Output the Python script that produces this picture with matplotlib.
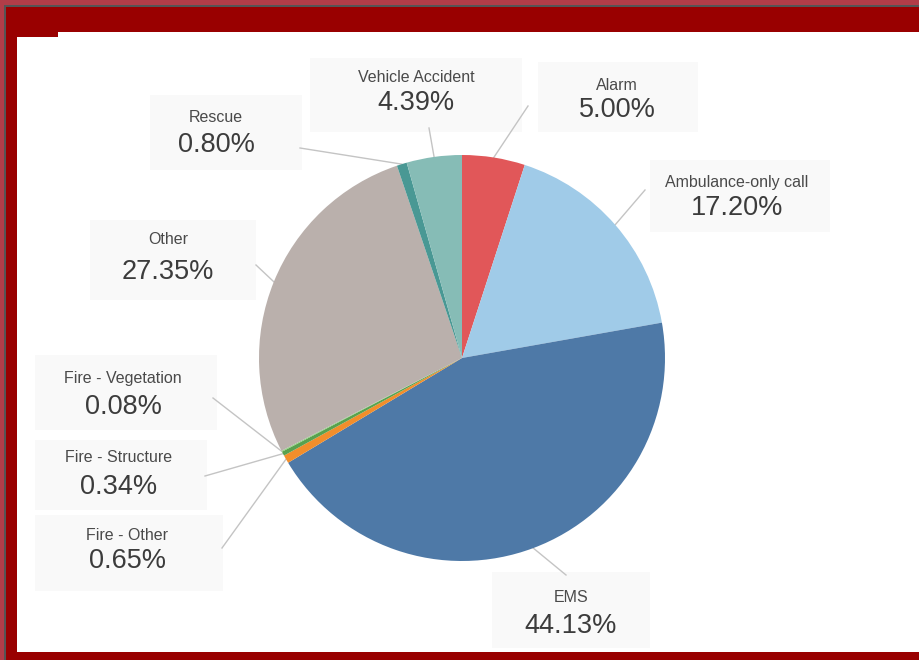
import numpy as np
import matplotlib
matplotlib.use('Agg')
from matplotlib import pyplot as plt
from matplotlib.patches import Rectangle

plt.rcParams['font.family'] = ['Liberation Sans', 'DejaVu Sans']

# data
categories = ['Alarm', 'Ambulance-only call', 'EMS', 'Fire - Other', 'Fire - Structure',
              'Fire - Vegetation', 'Other', 'Rescue', 'Vehicle Accident']
shares = [5.00, 17.20, 44.13, 0.65, 0.34, 0.08, 27.35, 0.80, 4.39]
colors = ['#e15759', '#a0cbe8', '#4e79a7', '#f28e2b', '#59a14f',
          '#8cd17d', '#bab0ac', '#499894', '#86bcb6']

# label layout in pixels: (text x, name y, value y, line start x, line start y, box)
layout = {
    'Alarm': (617, 86, 110, 528, 106, (538, 62, 160, 70)),
    'Ambulance-only call': (737, 182, 208, 645, 190, (650, 160, 180, 72)),
    'EMS': (571, 597, 626, 566, 575, (492, 572, 158, 76)),
    'Fire - Other': (127, 535, 561, 222, 548, (35, 515, 188, 76)),
    'Fire - Structure': (119, 458, 487, 205, 476, (35, 440, 172, 70)),
    'Fire - Vegetation': (123, 378, 407, 213, 398, (35, 355, 182, 75)),
    'Other': (168, 240, 272, 256, 265, (90, 220, 166, 80)),
    'Rescue': (216, 117, 145, 300, 148, (150, 95, 152, 75)),
    'Vehicle Accident': (416, 78, 103, 429, 128, (310, 58, 212, 74)),
}

W, H = 919, 660
cx, cy, r = 462, 358, 203

fig = plt.figure(figsize=(W / 100, H / 100), dpi=100)
fig.patch.set_facecolor('#b23d48')
ax = fig.add_axes([0, 0, 1, 1])

# frame
ax.add_patch(Rectangle((4, 5), W - 4, H - 5, facecolor='#555555', edgecolor='none', zorder=0))
ax.add_patch(Rectangle((6, 7), W - 6, H - 7, facecolor='#990000', edgecolor='none', zorder=0))
ax.add_patch(Rectangle((17, 32), W - 17, 620, facecolor='white', edgecolor='none', zorder=0))
ax.add_patch(Rectangle((17, 32), 41, 5, facecolor='#990000', edgecolor='none', zorder=1))

wedges, _ = ax.pie(shares, colors=colors, startangle=-90, counterclock=True,
                   center=(cx, cy), radius=r, frame=True,
                   wedgeprops=dict(linewidth=0, zorder=3))

for w, name, val in zip(wedges, categories, shares):
    tx, ny, vy, lx, ly, box = layout[name]
    bx, by, bw, bh = box
    ax.add_patch(Rectangle((bx, by), bw, bh, facecolor='#f9f9f9', edgecolor='none', zorder=1))
    ang = np.deg2rad((w.theta1 + w.theta2) / 2)
    ex, ey = cx + r * np.cos(ang), cy + r * np.sin(ang)
    ax.plot([lx, ex], [ly, ey], color='#c4c4c4', lw=1, zorder=2)
    ax.text(tx, ny, name, ha='center', va='center', fontsize=11.5, color='#4a4a4a', zorder=4)
    ax.text(tx, vy, '%.2f%%' % val, ha='center', va='center', fontsize=19.5, color='#3c3c3c', zorder=4)

ax.set_xlim(0, W)
ax.set_ylim(H, 0)
ax.set_aspect('auto')
ax.axis('off')

fig.savefig('out.png', dpi=100, facecolor=fig.get_facecolor())
